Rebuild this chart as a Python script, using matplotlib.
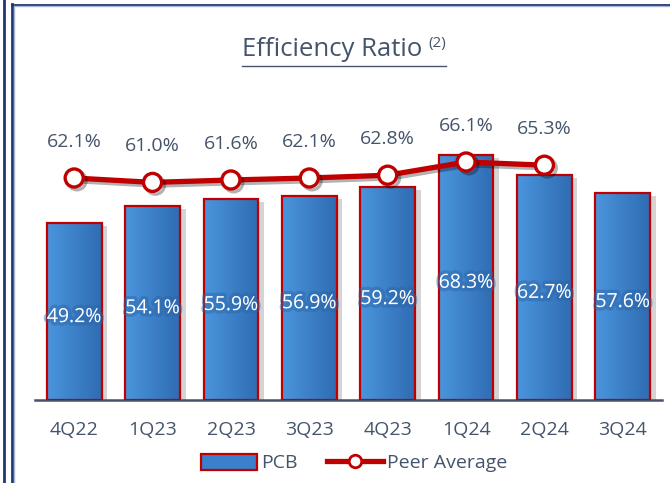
import matplotlib
matplotlib.use("Agg")
import numpy as np
import matplotlib.pyplot as plt
import matplotlib.patheffects as pe
from matplotlib.colors import LinearSegmentedColormap
from matplotlib.lines import Line2D
from matplotlib.patches import Patch

plt.rcParams["font.family"] = ["Open Sans", "DejaVu Sans"]

quarters = ["4Q22", "1Q23", "2Q23", "3Q23", "4Q23", "1Q24", "2Q24", "3Q24"]
pcb = [49.2, 54.1, 55.9, 56.9, 59.2, 68.3, 62.7, 57.6]
peer_avg = [62.1, 61.0, 61.6, 62.1, 62.8, 66.1, 65.3]

TEXT = "#44546A"
RED = "#C00000"
NAVY = "#1F3871"

fig = plt.figure(figsize=(6.7, 4.83), dpi=100)
ax = fig.add_axes([35 / 670, 83 / 483, 627 / 670, 310 / 483])
x = np.arange(len(quarters))

# bars: shadow + gradient fill + red outline
bars = ax.bar(x, pcb, width=0.7, color="#3B80CC", zorder=2,
              path_effects=[pe.SimplePatchShadow(offset=(4, -2), alpha=0.25, shadow_rgbFace="#555555"),
                            pe.Normal()])
grad_cmap = LinearSegmentedColormap.from_list("g", ["#4A95DC", "#2F6CB3"])
grad = np.linspace(0, 1, 64).reshape(1, -1)
for b in bars:
    im = ax.imshow(grad, cmap=grad_cmap, aspect="auto", zorder=2.5,
                   extent=[b.get_x(), b.get_x() + b.get_width(), 0, b.get_height()])
    im.set_clip_path(b)
ax.bar(x, pcb, width=0.7, facecolor="none", edgecolor=RED, linewidth=1.6, zorder=3)

ax.set_xlim(-0.5, len(quarters) - 0.5)
ax.set_ylim(0, 310 / 3.59)

glow = [pe.withStroke(linewidth=5, foreground="#2A64A8", alpha=0.45)]
for xi, v in zip(x, pcb):
    ax.text(xi, v / 2 - 1.5, f"{v:.1f}%", ha="center", va="center", color="white",
            fontsize=14, zorder=4, path_effects=glow)

# peer average line on its own scale
ax2 = ax.twinx()
ax2.set_ylim(62.1 - 222 / 4, 62.1 + 88 / 4)
ax2.plot(x[:len(peer_avg)], peer_avg, color=RED, linewidth=3.8, marker="o",
         markersize=13, markerfacecolor="white", markeredgecolor=RED,
         markeredgewidth=2.4, zorder=5, solid_capstyle="round",
         path_effects=[pe.SimpleLineShadow(offset=(2, -2), alpha=0.3), pe.Normal()])
for xi, v in zip(x, peer_avg):
    ax2.annotate(f"{v:.1f}%", (xi, v), xytext=(0, 26), textcoords="offset points",
                 ha="center", va="center", color=TEXT, fontsize=14)

for a in (ax, ax2):
    for s in ("top", "right", "left"):
        a.spines[s].set_visible(False)
    a.set_yticks([])
ax2.spines["bottom"].set_visible(False)
ax.spines["bottom"].set_color("#4A5068")
ax.spines["bottom"].set_linewidth(1.8)
ax.set_xticks(x)
ax.set_xticklabels(quarters, fontsize=14, color=TEXT)
ax.tick_params(axis="x", length=0, pad=15)

# title with underline
t = fig.text(242 / 670, 1 - 50 / 483, "Efficiency Ratio", ha="left", va="center",
             fontsize=18.5, color=TEXT)
fig.canvas.draw()
r = fig.canvas.get_renderer()
bb = t.get_window_extent(r)
sup = fig.text((bb.x1 + 6) / 670, 1 - 44 / 483, "(2)", ha="left", va="center",
               fontsize=11, color=TEXT)
bb2 = sup.get_window_extent(r)
fig.add_artist(Line2D([bb.x0 / 670, bb2.x1 / 670], [1 - 66 / 483] * 2,
                      color=TEXT, linewidth=1.0))

# legend
handles = [Patch(facecolor="#3B80CC", edgecolor=RED, linewidth=1.6, label="PCB"),
           Line2D([0], [0], color=RED, linewidth=3.8, marker="o", markersize=9,
                  markerfacecolor="white", markeredgecolor=RED, markeredgewidth=2,
                  label="Peer Average")]
leg = fig.legend(handles=handles, loc="center", bbox_to_anchor=(354 / 670, 1 - 463 / 483),
                 ncol=2, frameon=False, fontsize=14, handlelength=2.9,
                 handleheight=0.9, handletextpad=0.2, columnspacing=1.5,
                 borderaxespad=0, borderpad=0)
for txt in leg.get_texts():
    txt.set_color(TEXT)

# frame lines
fig.add_artist(Line2D([3.5 / 670] * 2, [0, 1], color=NAVY, linewidth=2))
fig.add_artist(Line2D([12.5 / 670] * 2, [0, 1 - 4 / 483], color=NAVY, linewidth=2))
fig.add_artist(Line2D([14 / 670] * 2, [0, 1 - 6 / 483], color="#A9B6CF", linewidth=1))
fig.add_artist(Line2D([12 / 670, 1], [1 - 4.5 / 483] * 2, color=NAVY, linewidth=2))
fig.add_artist(Line2D([14 / 670, 1], [1 - 6 / 483] * 2, color="#A9B6CF", linewidth=1))

fig.savefig("out.png", dpi=100)
